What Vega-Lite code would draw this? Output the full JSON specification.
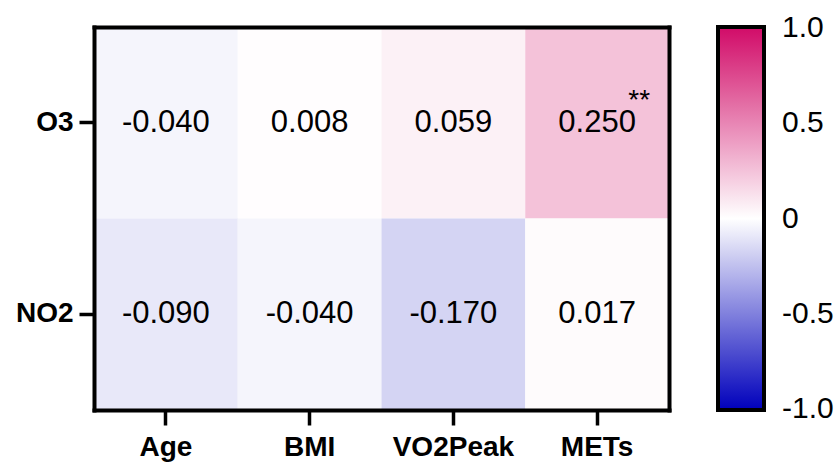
{
  "$schema": "https://vega.github.io/schema/vega-lite/v6.json",
  "width": 575,
  "height": 383,
  "autosize": {"type": "none"},
  "padding": {"left": 94, "top": 27, "right": 170, "bottom": 53},
  "background": "white",
  "config": {
    "view": {"stroke": null},
    "font": "Liberation Sans",
    "locale": {"number": {"decimal": ".", "thousands": ",", "grouping": [3], "currency": ["$", ""], "minus": "-"}}
  },
  "data": {
    "values": [
      {"pollutant": "O3", "variable": "Age", "r": -0.04, "sig": ""},
      {"pollutant": "O3", "variable": "BMI", "r": 0.008, "sig": ""},
      {"pollutant": "O3", "variable": "VO2Peak", "r": 0.059, "sig": ""},
      {"pollutant": "O3", "variable": "METs", "r": 0.25, "sig": "**"},
      {"pollutant": "NO2", "variable": "Age", "r": -0.09, "sig": ""},
      {"pollutant": "NO2", "variable": "BMI", "r": -0.04, "sig": ""},
      {"pollutant": "NO2", "variable": "VO2Peak", "r": -0.17, "sig": ""},
      {"pollutant": "NO2", "variable": "METs", "r": 0.017, "sig": ""}
    ]
  },
  "resolve": {"axis": {"x": "independent", "y": "independent"}},
  "layer": [
    {
      "mark": {"type": "rect"},
      "encoding": {
        "x": {
          "field": "variable",
          "type": "nominal",
          "sort": ["Age", "BMI", "VO2Peak", "METs"],
          "scale": {"paddingInner": 0, "paddingOuter": 0},
          "axis": {"orient": "bottom", "labelAngle": 0, "labelPadding": 8, "title": null, "grid": false,
            "domain": true, "domainColor": "black", "domainWidth": 4, "domainCap": "square",
            "ticks": true, "tickColor": "black", "tickWidth": 3.5, "tickSize": 15,
            "labelColor": "black", "labelFont": "Liberation Sans", "labelFontWeight": "bold", "labelFontSize": 28, "zindex": 2}
        },
        "y": {
          "field": "pollutant",
          "type": "nominal",
          "sort": ["O3", "NO2"],
          "scale": {"paddingInner": 0, "paddingOuter": 0},
          "axis": {"orient": "left", "labelPadding": 6, "title": null, "grid": false,
            "domain": true, "domainColor": "black", "domainWidth": 4, "domainCap": "square",
            "ticks": true, "tickColor": "black", "tickWidth": 3.5, "tickSize": 15,
            "labelColor": "black", "labelFont": "Liberation Sans", "labelFontWeight": "bold", "labelFontSize": 28, "zindex": 2}
        },
        "color": {
          "field": "r",
          "type": "quantitative",
          "scale": {"domain": [-1, 0, 1], "range": ["#0000bb", "#ffffff", "#d10b68"], "interpolate": "rgb"},
          "legend": {
            "title": null,
            "direction": "vertical",
            "orient": "right",
            "offset": 49,
            "gradientLength": 383,
            "gradientThickness": 46,
            "gradientStrokeColor": "black",
            "gradientStrokeWidth": 4,
            "values": [-0.995, -0.5, 0, 0.5, 0.995],
            "labelExpr": "datum.value == 0 ? '0' : format(datum.value, '.1f')",
            "labelFontSize": 30,
            "labelColor": "black",
            "labelFont": "Liberation Sans",
            "labelOffset": 18,
            "labelOverlap": false,
            "labelBaseline": "middle",
            "padding": 0
          }
        }
      }
    },
    {
      "mark": {"type": "text", "fontSize": 31, "color": "black", "font": "Liberation Sans"},
      "encoding": {
        "x": {
          "field": "variable",
          "type": "nominal",
          "sort": ["Age", "BMI", "VO2Peak", "METs"],
          "axis": {"orient": "top", "labels": false, "ticks": false, "title": null, "grid": false,
            "domain": true, "domainColor": "black", "domainWidth": 4, "domainCap": "square", "zindex": 2}
        },
        "y": {
          "field": "pollutant",
          "type": "nominal",
          "sort": ["O3", "NO2"],
          "axis": {"orient": "right", "labels": false, "ticks": false, "title": null, "grid": false,
            "domain": true, "domainColor": "black", "domainWidth": 4, "domainCap": "square", "zindex": 2}
        },
        "text": {"field": "r", "type": "quantitative", "format": ".3f"}
      }
    },
    {
      "mark": {"type": "text", "fontSize": 28, "color": "black", "font": "Liberation Sans", "dx": 42, "dy": -22},
      "encoding": {
        "x": {"field": "variable", "type": "nominal", "sort": ["Age", "BMI", "VO2Peak", "METs"], "axis": null},
        "y": {"field": "pollutant", "type": "nominal", "sort": ["O3", "NO2"], "axis": null},
        "text": {"field": "sig", "type": "nominal"}
      }
    }
  ]
}
